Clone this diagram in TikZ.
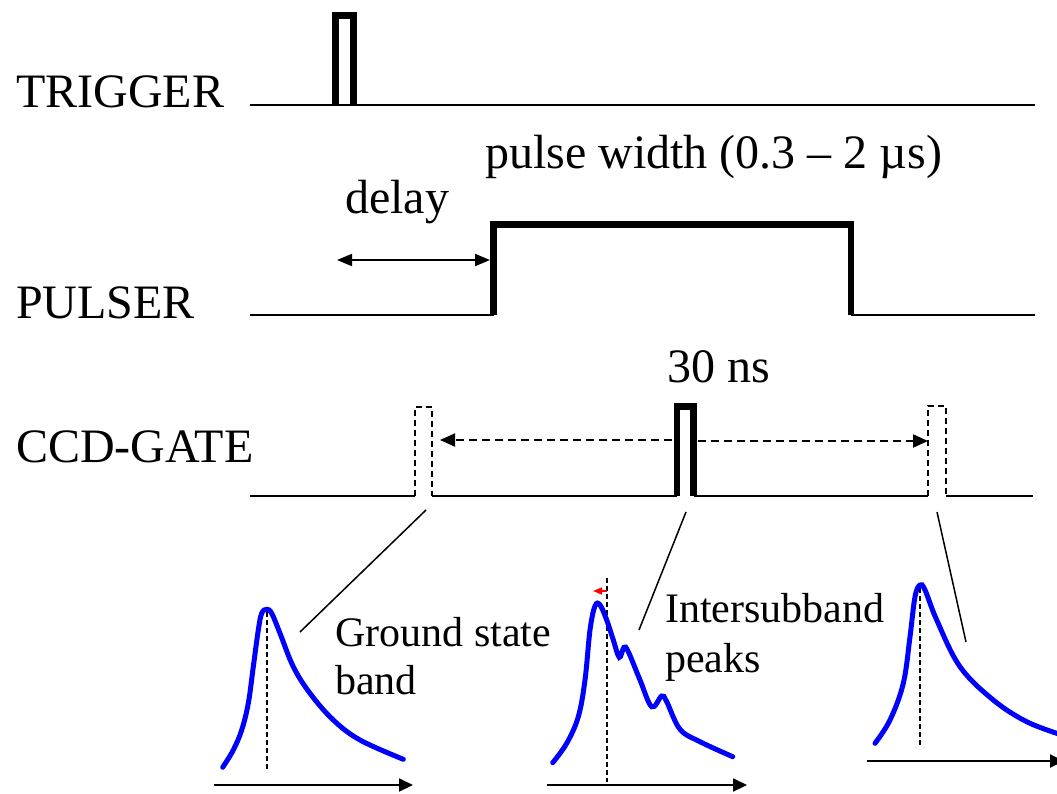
\documentclass[tikz,border=0pt]{standalone}
\usepackage{fontspec}
\setmainfont{Liberation Serif}
\usetikzlibrary{arrows.meta}

\begin{document}
\begin{tikzpicture}[
  x=1pt, y=-1pt,
  lbl/.style={font=\fontsize{48}{48}\selectfont, inner sep=0pt, anchor=base west, align=left},
  note/.style={lbl, font=\fontsize{42}{48}\selectfont},
  sig/.style={line width=2pt},
  pulse/.style={line width=6.5pt, line join=miter},
  gate/.style={line width=2pt, dash pattern=on 6pt off 4pt},
  arr/.style={{Triangle[length=15pt,width=12pt]}-{Triangle[length=15pt,width=12pt]}, line width=2pt},
  darr/.style={-{Triangle[length=15pt,width=13pt]}, line width=2pt, dash pattern=on 8pt off 5pt},
  axis/.style={-{Triangle[length=14pt,width=13pt]}, line width=2pt},
  peak/.style={line width=2pt, dash pattern=on 5pt off 3pt},
  spec/.style={blue, line width=5pt, line cap=round, smooth, tension=0.6},
  lead/.style={line width=1.5pt}
]
\useasboundingbox (0,0) rectangle (1057,793);

% labels
\node[lbl] (trig) at (16,107) {TRIGGER};
\node[lbl] (puls) at (16,318) {PULSER};
\node[lbl] (ccd) at (16,462) {CCD-GATE};
\node[lbl] (delay) at (345,213) {delay};
\node[lbl] (width) at (485,168) {pulse width (0.3 -- 2 µs)};
\node[lbl] (ns) at (667,382) {30 ns};
\node[note] (ground) at (335,694) {Ground state\\band};
\node[note] (inter) at (665,672) {Intersubband\\[2pt]peaks};

% trigger
\coordinate (t0) at (250,105);
\coordinate (t1) at (1035,105);
\draw[sig] (t0) -- (t1);
\draw[pulse] (335.5,105) -- (335.5,15.5) -- (353.5,15.5) -- (353.5,105);

% pulser
\coordinate (p0) at (250,315);
\coordinate (pr) at (493.5,315);
\coordinate (pf) at (851,315);
\coordinate (p1) at (1035,315);
\draw[sig] (p0) -- (pr);
\draw[pulse] (pr) -- (493.5,224.5) -- (851,224.5) -- (pf);
\draw[sig] (pf) -- (p1);
\draw[arr] (337,260) -- (490,260);

% ccd gate
\coordinate (g0) at (250,496);
\coordinate (gl1) at (415,496);
\coordinate (gl2) at (432,496);
\coordinate (gm1) at (677,496);
\coordinate (gm2) at (693.5,496);
\coordinate (gr1) at (928,496);
\coordinate (gr2) at (946,496);
\coordinate (g1) at (1033,496);
\draw[sig] (g0) -- (gl1);
\draw[sig] (gl2) -- (gm1);
\draw[sig] (gm2) -- (gr1);
\draw[sig] (gr2) -- (g1);
\draw[gate] (gl1) -- (415,407) -- (432,407) -- (gl2);
\draw[gate] (gr1) -- (928,406) -- (946,406) -- (gr2);
\draw[pulse] (gm1) -- (677,406.5) -- (693.5,406.5) -- (gm2);
\draw[darr] (672,440) -- (440,440);
\draw[darr] (698,441) -- (928,441);

% leaders
\draw[lead] (426,510) -- (300,632);
\draw[lead] (686,512) -- (639,630);
\draw[lead] (937,512) -- (966,642);

% spectra
\draw[peak] (267,612) -- (267,772);
\draw[axis] (214,785) -- (413,785);
\draw[spec] plot coordinates {(222.7,767.3) (233.3,750) (241.7,730) (248.3,703.3) (253.3,666.7) (258.3,630) (261.7,613.3) (266.7,609.3) (271.7,613.3) (280,633.3) (293.3,666.7) (310,693.3) (333.3,720) (360,740) (403.3,759.3)};

\draw[peak] (607,578) -- (607,782);
\draw[axis] (547,785) -- (747,785);
\draw[red, line width=1.5pt, -{Triangle[length=9pt,width=7pt]}] (607,591) -- (593,591);
\draw[spec] plot coordinates {(552.7,762.7) (566.7,743.3) (578.3,716.7) (585,680) (590,630) (595,606) (600,605) (606.7,620) (613.3,640) (619.3,657.3) (624,647.3) (628.3,651.7) (640,680) (651.7,706.7) (661.7,696) (666.7,701.7) (680,729.3) (700,741.7) (732.7,756.7)};

\draw[peak] (920,588) -- (920,747);
\draw[axis] (867,761) -- (1064,761);
\draw[spec] plot coordinates {(875,743.3) (890,720) (903.3,683.3) (910,636.7) (915,596.7) (920,585) (925,590) (936.7,620) (960,666.7) (993.3,700) (1026.7,721.7) (1062,735)};
\end{tikzpicture}
\end{document}
